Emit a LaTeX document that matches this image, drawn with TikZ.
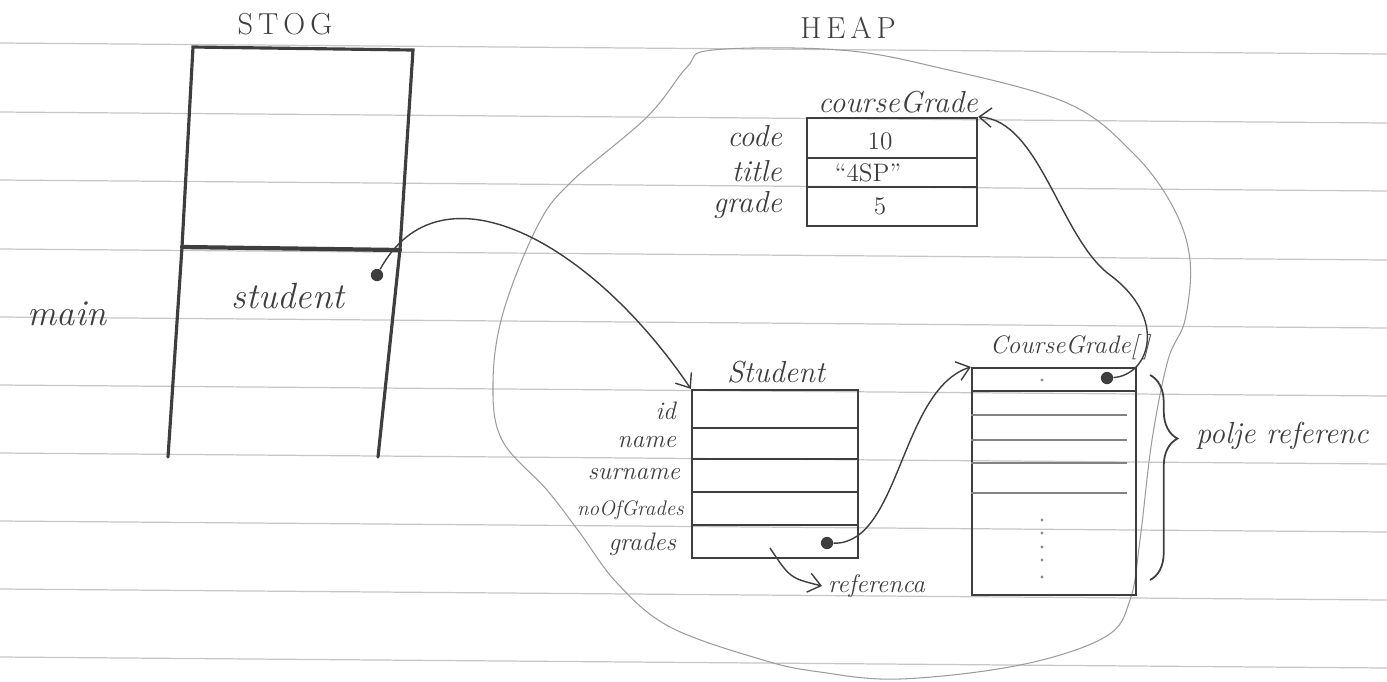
\documentclass[tikz,border=0pt]{standalone}
\usetikzlibrary{positioning,arrows.meta,decorations.pathreplacing}

\definecolor{pencil}{HTML}{3E3E3E}
\definecolor{lead}{HTML}{9C9C9C}
\definecolor{ruling}{HTML}{C6C6C6}

\begin{document}
\begin{tikzpicture}[x=0.02cm, y=-0.02cm,
  every node/.style={font=\LARGE\itshape, text=pencil},
  ruled/.style={draw=ruling, line width=0.7pt},
  objbox/.style={rectangle, draw=pencil, line width=1.3pt, inner sep=0pt},
  rowline/.style={draw=pencil, line width=1.1pt},
  thinrow/.style={draw=pencil!65, line width=0.7pt},
  stackline/.style={draw=pencil, line width=1.8pt, line cap=round},
  heapline/.style={draw=lead, line width=0.6pt},
  refarrow/.style={draw=pencil, line width=0.8pt, -{Straight Barb[length=7pt,width=11pt]}},
  refdot/.style={circle, fill=pencil, inner sep=0pt, minimum size=7pt},
  fieldlab/.style={anchor=east, inner sep=1pt},
  stfield/.style={fieldlab, font=\Large\itshape},
  valtext/.style={font=\Large\upshape},
  caption/.style={font=\LARGE\upshape}
]
\useasboundingbox (0,0) rectangle (1387,681);

% ruled paper
\foreach \y in {43,112,180,249,317,385,453,521,589,657}
  \draw[ruled] (0,\y) -- (1387,\y+11);

% heap outline
\draw[heapline] plot[smooth cycle, tension=0.6] coordinates {
  (713,50) (840,50) (940,68) (1067,103) (1133,153) (1173,207) (1190,260)
  (1185,320) (1168,360) (1152,440) (1140,540) (1130,600) (1105,637)
  (1020,665) (900,679) (820,672) (763,660) (670,627) (617,583) (580,533)
  (547,490) (502,440) (493,383) (503,313) (537,227) (570,183) (647,117)
  (687,67)};

% stack
\node[caption] (stog) at (285,24) {S\,T\,O\,G};
\draw[stackline] (168,457) -- (182,247) -- (193,47) -- (413,50) -- (400,249) -- (378,457);
\draw[stackline, line width=2.4pt] (182,247) -- (400,250);
\node[font=\huge\itshape] (mainlab) at (67,314) {main};
\node[font=\huge\itshape] (svar) at (288,296) {student};
\node[refdot] (sdot) at (377,275) {};

% heap objects
\node[caption] (heap) at (848,28) {H\,E\,A\,P};

\node[objbox, minimum width=3.4cm, minimum height=2.16cm] (cg) at (892,172) {};
\node (cgtitle) at (898,102) {courseGrade};
\foreach \r in {158,187}
  \draw[rowline] (cg.west |- 0,\r) -- (cg.east |- 0,\r);
\node[valtext] (v1) at (880,141) {10};
\node[valtext] (v2) at (868,173) {``4SP''};
\node[valtext] (v3) at (880,206) {5};
\node[fieldlab] (f1) at (784,136) {code};
\node[fieldlab] (f2) at (784,171) {title};
\node[fieldlab] (f3) at (784,205) {grade};

\node[objbox, minimum width=3.32cm, minimum height=3.36cm] (st) at (775,474) {};
\node (sttitle) at (776,372) {Student};
\foreach \r in {428,459,492,525}
  \draw[rowline] (st.west |- 0,\r) -- (st.east |- 0,\r);
\node[stfield] (g1) at (678,411) {id};
\node[stfield] (g2) at (678,442) {name};
\node[stfield] (g3) at (682,474) {surname};
\node[stfield, font=\large\itshape] (g4) at (686,510) {noOfGrades};
\node[stfield] (g5) at (678,544) {grades};
\node[refdot] (gdot) at (827,543) {};

\node[objbox, minimum width=3.28cm, minimum height=4.54cm] (cga) at (1054,481.5) {};
\node[font=\Large\itshape] (cgatitle) at (1070,347) {CourseGrade[\,]};
\draw[rowline] (cga.west |- 0,391) -- (cga.east |- 0,391);
\foreach \r in {415,440,463,493}
  \draw[thinrow] (cga.west |- 0,\r) -- ([xshift=-0.2cm]cga.east |- 0,\r);
\foreach \d in {380,520,533,547,560,577}
  \fill[pencil!60] (1042,\d) circle (0.9pt);
\node[refdot] (adot) at (1107,378) {};

% references
\draw[refarrow] (sdot) .. controls (440,160) and (590,240) .. (st.north west);
\draw[refarrow] (gdot) .. controls (900,545) and (900,390) .. (cga.north west);
\draw[refarrow] (adot) .. controls (1150,375) and (1168,318) .. (1110,275)
  .. controls (1060,238) and (1040,120) .. (cg.north east);

\node[anchor=west, font=\Large\itshape] (reflab) at (822,586) {referenca};
\coordinate (refstart) at (770,548);
\draw[refarrow] (refstart) .. controls (790,578) .. (reflab.west);

% array of references
\draw[pencil, line width=1pt,
  decorate, decoration={brace, amplitude=0.55cm, aspect=0.31}]
  (1150,375) -- (1150,580);
\node[anchor=west] (plab) at (1190,436) {polje referenc};

\end{tikzpicture}
\end{document}
